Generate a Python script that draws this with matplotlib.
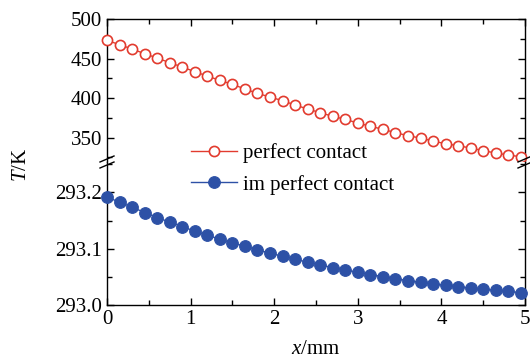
import numpy as np
import matplotlib
matplotlib.use("Agg")
import matplotlib.pyplot as plt
from matplotlib.ticker import MultipleLocator, FormatStrFormatter

plt.rcParams['font.family'] = ['Liberation Serif', 'DejaVu Serif']
plt.rcParams['mathtext.fontset'] = 'custom'
plt.rcParams['mathtext.it'] = 'Liberation Serif:italic'
plt.rcParams['mathtext.rm'] = 'Liberation Serif'

x = [i * 0.15 for i in range(34)]
T_perfect = [473.0, 467.5, 462.0, 456.1, 450.6, 444.7, 439.2, 433.3, 427.8, 422.3,
             417.3, 411.4, 405.9, 401.2, 396.6, 391.1, 386.1, 381.4, 376.8, 373.0,
             368.3, 364.2, 360.4, 356.1, 352.3, 349.3, 345.5, 342.1, 339.6, 336.7,
             333.3, 330.4, 327.8, 325.7]
T_imperfect = [293.1916, 293.1827, 293.1738, 293.1642, 293.1553, 293.1472, 293.1393,
               293.1311, 293.1240, 293.1169, 293.1103, 293.1044, 293.0979, 293.0920,
               293.0866, 293.0813, 293.0760, 293.0712, 293.0664, 293.0623, 293.0581,
               293.0540, 293.0504, 293.0468, 293.0433, 293.0404, 293.0374, 293.0350,
               293.0326, 293.0302, 293.0279, 293.0261, 293.0243, 293.0219]
labels = ["perfect contact", "im perfect contact"]

red = "#e23b2e"
blue = "#2d51a6"

W, H = 530, 360
fig = plt.figure(figsize=(W / 100, H / 100), dpi=100)
left, right = 107 / W, 525 / W
top_y, mid_y, bot_y = 19, 162, 305
ax_top = fig.add_axes([left, 1 - mid_y / H, right - left, (mid_y - top_y) / H])
ax_bot = fig.add_axes([left, 1 - bot_y / H, right - left, (bot_y - mid_y) / H])

l1, = ax_top.plot(x, T_perfect, '-o', color=red, mfc='white', mec=red,
                  ms=7.3, mew=1.2, lw=1.0, clip_on=False, zorder=3)
l2, = ax_bot.plot(x, T_imperfect, '-o', color=blue, mfc=blue, mec=blue,
                  ms=8.4, mew=0.8, lw=1.0, clip_on=False, zorder=3)

ax_top.set_ylim(319, 500)
ax_bot.set_ylim(293.0, 293.254)
for ax in (ax_top, ax_bot):
    ax.set_xlim(0, 5)
    ax.xaxis.set_major_locator(MultipleLocator(1))
    ax.xaxis.set_minor_locator(MultipleLocator(0.5))
    ax.tick_params(which='both', direction='in', labelsize=15, width=1.0)
    ax.tick_params(which='major', length=5)
    ax.tick_params(which='minor', length=3.5)
    for s in ax.spines.values():
        s.set_linewidth(1.0)

ax_top.yaxis.set_major_locator(MultipleLocator(50))
ax_top.yaxis.set_minor_locator(MultipleLocator(25))
ax_top.tick_params(which='both', top=True, right=True, bottom=False, labelbottom=False)
ax_top.spines['bottom'].set_visible(False)

ax_bot.yaxis.set_major_locator(MultipleLocator(0.1))
ax_bot.yaxis.set_minor_locator(MultipleLocator(0.05))
ax_bot.yaxis.set_major_formatter(FormatStrFormatter('%.1f'))
ax_bot.tick_params(which='both', right=True, top=False)
ax_bot.spines['top'].set_visible(False)

# break marks
bm = dict(color='black', lw=1.0, clip_on=False, zorder=5)
for px in (left * W, right * W):
    for dy in (-3, 3):
        yc = mid_y + dy
        fig.add_artist(plt.Line2D([(px - 7) / W, (px + 7) / W],
                                  [1 - (yc + 3) / H, 1 - (yc - 3) / H],
                                  transform=fig.transFigure, **bm))

fig.text(22 / W, 1 - 165 / H, r'$\mathit{T}$/K', rotation=90, ha='center', va='center',
         fontsize=15)
fig.text(316 / W, 1 - 349 / H, r'$\mathit{x}$/mm', ha='center', va='center', fontsize=15)

fig.legend([l1, l2], labels, loc='center left', bbox_to_anchor=(191 / W, 1 - 169 / H),
           frameon=False, fontsize=15, handlelength=2.2, handletextpad=0.3,
           labelspacing=0.55, borderpad=0, borderaxespad=0)

fig.savefig("out.png", dpi=100)
